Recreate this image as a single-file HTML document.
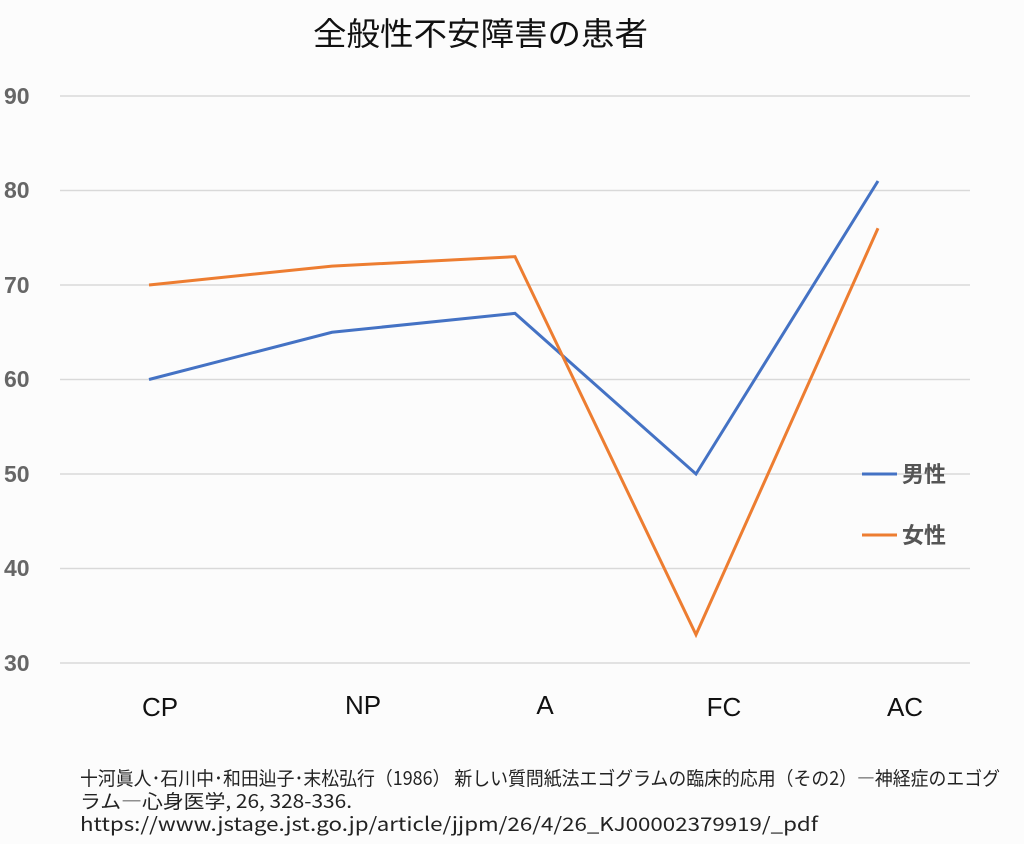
<!DOCTYPE html>
<html><head><meta charset="utf-8"><style>
body{margin:0;background:#fcfcfc;}
svg{display:block;}
</style></head><body>
<svg width="1024" height="844" xmlns="http://www.w3.org/2000/svg" font-family="Liberation Sans, Noto Sans CJK JP, sans-serif">
<rect width="1024" height="844" fill="#fcfcfc"/>
<text x="313" y="45" font-size="32" textLength="335" lengthAdjust="spacingAndGlyphs" fill="#111" font-family="Noto Sans CJK JP, sans-serif">全般性不安障害の患者</text>
<g stroke="#d9d9d9" stroke-width="1.5">
<line x1="60" y1="96" x2="970" y2="96"/><line x1="60" y1="190.5" x2="970" y2="190.5"/>
<line x1="60" y1="285" x2="970" y2="285"/><line x1="60" y1="379.5" x2="970" y2="379.5"/>
<line x1="60" y1="474" x2="970" y2="474"/><line x1="60" y1="568.5" x2="970" y2="568.5"/>
<line x1="60" y1="663" x2="970" y2="663"/>
</g>
<g font-size="23" font-weight="bold" fill="#666">
<text x="4" y="104">90</text><text x="4" y="198">80</text><text x="4" y="293">70</text>
<text x="4" y="387">60</text><text x="4" y="482">50</text><text x="4" y="576">40</text><text x="4" y="671">30</text>
</g>
<g font-size="26" fill="#111" text-anchor="middle">
<text x="160" y="716">CP</text><text x="363" y="714">NP</text><text x="545" y="714">A</text>
<text x="724" y="716">FC</text><text x="905" y="716">AC</text>
</g>
<polyline fill="none" stroke="#4472c4" stroke-width="3" points="149,379.5 332,332.25 515,313.35 696,474 878,181"/>
<polyline fill="none" stroke="#ed7d31" stroke-width="3" points="149,285 332,266.1 515,256.65 696,634.65 878,228.3"/>
<line x1="862" y1="474" x2="897" y2="474" stroke="#4472c4" stroke-width="3"/>
<line x1="862" y1="535" x2="897" y2="535" stroke="#ed7d31" stroke-width="3"/>
<g font-size="22" font-weight="bold" fill="#555" font-family="Noto Sans CJK JP, sans-serif">
<text x="902" y="482">男性</text><text x="902" y="543">女性</text>
</g>
<g font-size="19" fill="#222" font-family="Noto Sans CJK JP, sans-serif">
<text x="80" y="785" textLength="920" lengthAdjust="spacingAndGlyphs">十河眞人･石川中･和田辿子･末松弘行（1986） 新しい質問紙法エゴグラムの臨床的応用（その2）―神経症のエゴグ</text>
<text x="80" y="808" textLength="272" lengthAdjust="spacingAndGlyphs">ラム―心身医学, 26, 328-336.</text>
<text x="80" y="831" textLength="738" lengthAdjust="spacingAndGlyphs">https://www.jstage.jst.go.jp/article/jjpm/26/4/26_KJ00002379919/_pdf</text>
</g>
</svg>
</body></html>
